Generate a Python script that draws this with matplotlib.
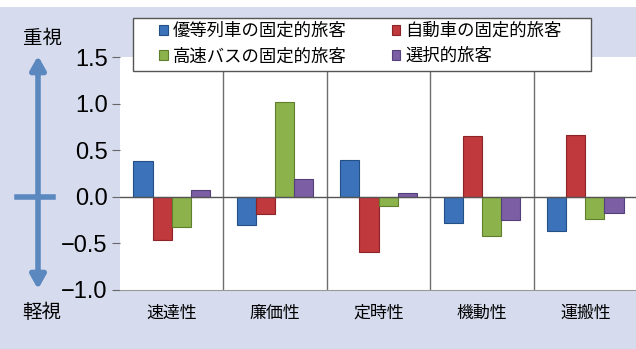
import matplotlib.pyplot as plt
import numpy as np
from matplotlib.patches import FancyArrowPatch

plt.rcParams['font.family'] = ['Noto Sans CJK JP', 'DejaVu Sans']

categories = ["速達性", "廉価性", "定時性", "機動性", "運搬性"]
series_names = ["優等列車の固定的旅客", "自動車の固定的旅客", "高速バスの固定的旅客", "選択的旅客"]
rail_fixed = [0.38, -0.30, 0.39, -0.28, -0.37]
car_fixed = [-0.46, -0.18, -0.59, 0.65, 0.66]
bus_fixed = [-0.32, 1.02, -0.10, -0.42, -0.24]
selective = [0.07, 0.19, 0.04, -0.25, -0.17]
yticks = [1.5, 1.0, 0.5, 0.0, -0.5, -1.0]
ytick_labels = ["1.5", "1.0", "0.5", "0.0", "\u22120.5", "\u22121.0"]

colors = ["#3b72b9", "#c0393c", "#8cb24b", "#7b5ea3"]
edges = ["#244f86", "#8a2426", "#5f7e2e", "#54407a"]
bg = "#d6dcee"
W, H = 636, 349

fig = plt.figure(figsize=(6.36, 3.49), dpi=100)
fig.patch.set_facecolor(bg)
# white strip at top
fig.add_artist(plt.Rectangle((0, 1 - 7 / H), 1, 7 / H, transform=fig.transFigure,
                             facecolor="white", edgecolor="none"))

ax = fig.add_axes([120 / W, 1 - 290 / H, 517 / W, 233 / H])
ax.set_facecolor("white")

x = np.arange(len(categories))
w = 0.185
all_series = [rail_fixed, car_fixed, bus_fixed, selective]
bars = []
for i, vals in enumerate(all_series):
    b = ax.bar(x + (i - 1.5) * w, vals, width=w, color=colors[i], edgecolor=edges[i],
               linewidth=0.8, label=series_names[i], zorder=3)
    bars.append(b)

ax.set_xlim(-0.5, len(categories) - 0.5)
ax.set_ylim(-1.0, 1.5)
for sep in np.arange(0.5, len(categories) - 0.5, 1):
    ax.axvline(sep, color="#6e6e6e", lw=1.0, zorder=1)
ax.axhline(0, color="#555555", lw=1.0, zorder=4)

ax.set_yticks(yticks)
ax.set_yticklabels(ytick_labels, fontsize=17, family=["Liberation Sans"])
ax.tick_params(axis="y", length=6, color="#666666", pad=3, direction="out")
ax.set_xticks(x)
ax.set_xticklabels(categories, fontsize=12.2)
ax.tick_params(axis="x", length=0, pad=10)
for s in ["top", "right", "left"]:
    ax.spines[s].set_visible(False)
ax.spines["bottom"].set_color("#9a9a9a")

# legend box drawn separately (it is wider than its content)
fig.add_artist(plt.Rectangle((133 / W, 1 - 71 / H), 458 / W, 53 / H,
                             transform=fig.transFigure, facecolor="white",
                             edgecolor="#555555", lw=1.0, zorder=9))

# legend filled row by row: reorder for matplotlib's column-first filling
order = [0, 2, 1, 3]
leg = fig.legend([bars[k] for k in order], [series_names[k] for k in order],
                 ncol=2, loc="upper left", bbox_to_anchor=(159 / W, 1 - 22 / H),
                 fontsize=12.5, frameon=False,
                 handlelength=0.5, handleheight=0.5, handletextpad=0.3,
                 columnspacing=2.6, borderpad=0, labelspacing=0.42,
                 borderaxespad=0)
leg.set_zorder(10)

# importance arrow on the left
arrow_col = "#5b88bf"
arr = FancyArrowPatch((38, H - 53), (38, H - 292), transform=None,
                      arrowstyle="<|-|>,head_length=8,head_width=4.5",
                      color=arrow_col, lw=4, mutation_scale=1)
fig.add_artist(arr)
fig.add_artist(plt.Line2D([17 / W, 53 / W], [1 - 197 / H, 1 - 197 / H],
                          transform=fig.transFigure, color=arrow_col, lw=4))
fig.text(42 / W, 1 - 38 / H, "重視", fontsize=14, ha="center", va="center")
fig.text(42 / W, 1 - 312 / H, "軽視", fontsize=14, ha="center", va="center")

fig.savefig("out.png", dpi=100, facecolor=fig.get_facecolor())
